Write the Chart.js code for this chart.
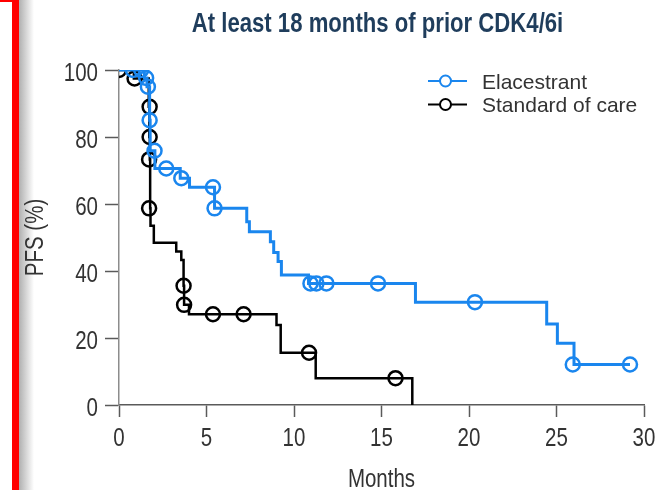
<!DOCTYPE html>
<html><head><meta charset="utf-8">
<script src="https://cdn.jsdelivr.net/npm/chart.js@4.4.1/dist/chart.umd.min.js"></script>
<style>
html,body{margin:0;padding:0;background:#fff;width:658px;height:490px;overflow:hidden;}
#shadow{position:absolute;left:19px;top:0;width:15px;height:490px;background:linear-gradient(to right,#b0b0b0,#ffffff);}
#frameLeft{position:absolute;left:12px;top:0;width:7px;height:490px;background:#ff0000;}
#frameTop{position:absolute;left:0;top:0;width:19px;height:2px;background:#ff0000;}
#wrap{position:absolute;left:0;top:0;width:658px;height:490px;}
</style></head>
<body>
<div id="shadow"></div><div id="frameLeft"></div><div id="frameTop"></div>
<div id="wrap"><canvas id="c" width="658" height="490"></canvas></div>
<script>
// ---- data ----
const chartTitle = 'At least 18 months of prior CDK4/6i';
const xAxisTitle = 'Months';
const yAxisTitle = 'PFS (%)';
const seriesNames = ['Elacestrant', 'Standard of care'];
const xTicks = [0, 5, 10, 15, 20, 25, 30];
const yTicks = [0, 20, 40, 60, 80, 100];

const elaTime = [0, 1.45, 1.6, 1.75, 1.78, 2.05, 3.5, 4.03, 5.46, 7.3, 7.45, 8.65, 8.84, 9.09, 9.28, 10.83, 16.94, 24.44, 25.05, 26.0, 29.2];
const elaPFS  = [100, 97.6, 95.0, 85.0, 75.9, 70.6, 67.7, 65.0, 58.7, 54.7, 51.7, 48.7, 45.5, 42.8, 38.8, 36.3, 30.7, 24.2, 18.4, 12.1, 12.1];
const elaCensorTime = [0.79, 1.27, 1.55, 1.65, 1.75, 2.03, 2.7, 3.56, 5.37, 5.46, 10.94, 11.28, 11.85, 14.8, 20.34, 25.93, 29.2];
const elaCensorPFS  = [100, 100, 97.6, 95.0, 85.0, 75.9, 70.6, 67.7, 65.0, 58.7, 36.3, 36.3, 36.3, 36.3, 30.7, 12.1, 12.1];

const socTime = [0, 0.85, 1.7, 1.73, 1.76, 1.78, 1.8, 1.99, 3.27, 3.56, 3.69, 3.72, 4.0, 9.0, 9.24, 11.24, 16.76];
const socPFS  = [100, 97.5, 89.0, 80.0, 73.3, 58.7, 53.5, 48.4, 45.8, 43.3, 35.6, 29.9, 27.1, 23.9, 15.6, 8.0, 0];
const socCensorTime = [0, 0.89, 1.75, 1.75, 1.72, 1.72, 3.69, 3.72, 5.37, 7.12, 10.86, 15.8];
const socCensorPFS  = [100, 97.5, 89.0, 80.0, 73.3, 58.7, 35.6, 29.9, 27.1, 27.1, 15.6, 8.0];

// ---- style ----
const BLUE = '#1a86ee';
const BLACK = '#000000';
const TICKCOL = '#5a5a5a';
const YLINE = '#8c8c8c';
const TEXT = '#333333';
const SANS = '"Liberation Sans", Arial, sans-serif';
const NARROW_SCALE = 0.82;

const pts = (xs, ys) => xs.map((x, i) => ({x: x, y: ys[i]}));

function narrowText(ctx, text, x, y, size, bold, align, color) {
  ctx.save();
  ctx.translate(x, y);
  ctx.scale(NARROW_SCALE, 1);
  ctx.font = (bold ? 'bold ' : '') + size + 'px ' + SANS;
  ctx.textAlign = align;
  ctx.textBaseline = 'alphabetic';
  ctx.fillStyle = color;
  ctx.fillText(text, 0, 0);
  ctx.restore();
}

const overlay = {
  id: 'overlay',
  afterDraw(chart) {
    const ctx = chart.ctx, a = chart.chartArea;
    const xs = chart.scales.x, ys = chart.scales.y;
    ctx.save();
    // tick labels (positions from the library's scales)
    xs.ticks.forEach(t => narrowText(ctx, String(t.value), xs.getPixelForValue(t.value), 446, 25, false, 'center', TEXT));
    ys.ticks.forEach(t => narrowText(ctx, String(t.value), 98, ys.getPixelForValue(t.value) + 10.5, 25, false, 'right', TEXT));
    // title
    narrowText(ctx, chartTitle, 377.5, 32, 27, true, 'center', '#1f3d5c');
    // axis titles
    narrowText(ctx, xAxisTitle, (a.left + a.right) / 2, 487, 25, false, 'center', TEXT);
    ctx.save();
    ctx.translate(43, (a.top + a.bottom) / 2);
    ctx.rotate(-Math.PI / 2);
    narrowText(ctx, yAxisTitle, 0, 0, 25, false, 'center', TEXT);
    ctx.restore();
    // legend
    const items = [[seriesNames[0], BLUE, 81], [seriesNames[1], BLACK, 104.5]];
    ctx.font = '21px ' + SANS;
    ctx.textAlign = 'left';
    ctx.textBaseline = 'middle';
    items.forEach(([label, col, y]) => {
      ctx.strokeStyle = col;
      ctx.lineWidth = 2;
      ctx.beginPath(); ctx.moveTo(428, y); ctx.lineTo(467, y); ctx.stroke();
      ctx.beginPath(); ctx.arc(445.5, y, 5.5, 0, Math.PI * 2);
      ctx.fillStyle = '#ffffff'; ctx.fill(); ctx.stroke();
      ctx.fillStyle = TEXT;
      ctx.fillText(label, 482, y + 2);
    });
    ctx.restore();
  }
};

const axisCommon = (ticksArr, tl, lineCol) => ({
  type: 'linear',
  min: ticksArr[0],
  max: ticksArr[ticksArr.length - 1],
  afterBuildTicks: s => { s.ticks = ticksArr.map(v => ({value: v})); },
  grid: {drawOnChartArea: false, drawTicks: true, tickLength: tl, tickColor: TICKCOL, tickWidth: 1.5, color: TICKCOL},
  border: {display: true, color: lineCol, width: 1.5},
  ticks: {display: false}
});

const xScale = axisCommon(xTicks, 12, TICKCOL);
xScale.afterFit = s => { s.height = 85; };
const yScale = axisCommon(yTicks, 14, YLINE);
yScale.afterFit = s => { s.width = 119; };

new Chart(document.getElementById('c'), {
  type: 'line',
  data: {
    datasets: [
      {label: seriesNames[0] + ' censored', data: pts(elaCensorTime, elaCensorPFS), showLine: false,
       pointStyle: 'circle', pointRadius: 7, pointBorderWidth: 2.5, pointBorderColor: BLUE, pointBackgroundColor: 'rgba(0,0,0,0)', order: 0},
      {label: seriesNames[0], data: pts(elaTime, elaPFS), stepped: true, borderColor: BLUE, borderWidth: 3,
       pointRadius: 0, fill: false, order: 1},
      {label: seriesNames[1] + ' censored', data: pts(socCensorTime, socCensorPFS), showLine: false,
       pointStyle: 'circle', pointRadius: 7, pointBorderWidth: 2.5, pointBorderColor: BLACK, pointBackgroundColor: 'rgba(0,0,0,0)', order: 2},
      {label: seriesNames[1], data: pts(socTime, socPFS), stepped: true, borderColor: BLACK, borderWidth: 2.5,
       pointRadius: 0, fill: false, order: 3}
    ]
  },
  options: {
    responsive: false,
    animation: false,
    layout: {padding: {left: 0, right: 14, top: 70, bottom: 0}},
    plugins: {legend: {display: false}, tooltip: {enabled: false}, title: {display: false}},
    scales: {x: xScale, y: yScale}
  },
  plugins: [overlay]
});
</script>
</body></html>
